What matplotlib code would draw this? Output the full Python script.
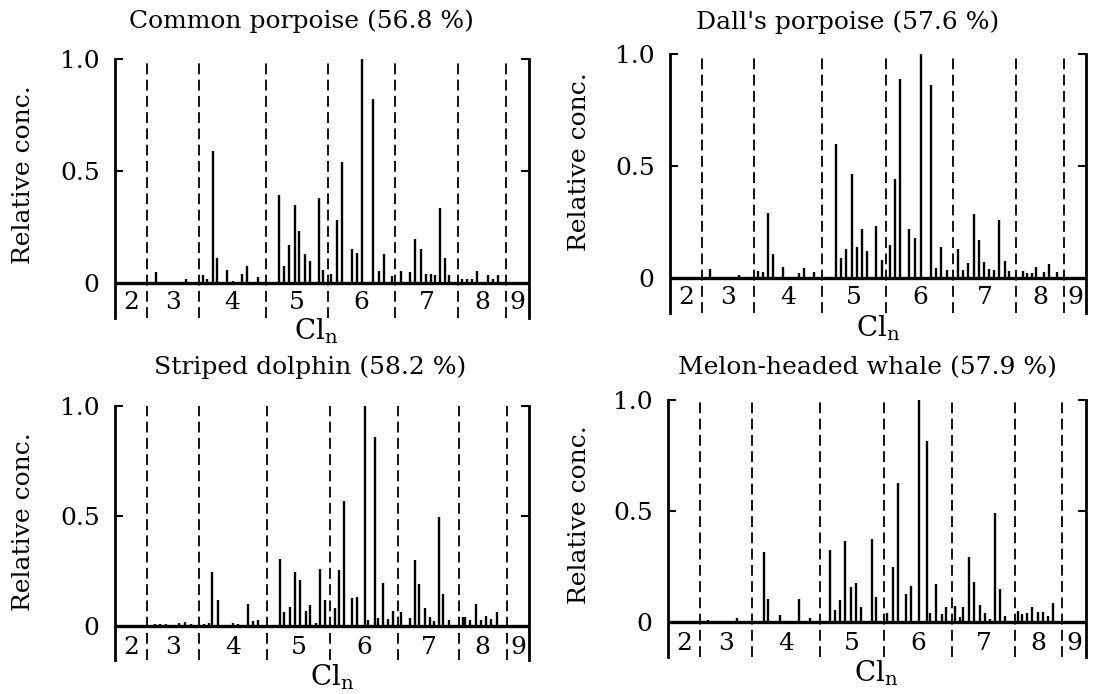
import matplotlib
matplotlib.use("Agg")
import matplotlib.pyplot as plt

plt.rcParams['font.family'] = ['DejaVu Serif']
plt.rcParams['mathtext.fontset'] = 'dejavuserif'

# ---------------- data ----------------
titles = ["Common porpoise (56.8 %)", "Dall's porpoise (57.6 %)",
          "Striped dolphin (58.2 %)", "Melon-headed whale (57.9 %)"]
cl_labels = ["2", "3", "4", "5", "6", "7", "8", "9"]
ytick_vals = [0, 0.5, 1.0]
ytick_text = ["0", "0.5", "1.0"]

# homolog group boundaries (relative retention, 0-100 across the axis)
cp_bounds = [7.65, 20.21, 36.39, 51.45, 67.71, 82.77, 94.44]
dp_bounds = [7.61, 20.11, 36.54, 52.00, 68.11, 83.17, 94.71]
sd_bounds = [7.64, 20.35, 36.69, 52.05, 68.38, 83.03, 94.61]
mh_bounds = [7.57, 20.08, 36.25, 51.63, 68.05, 83.03, 94.34]

# Common porpoise
cp_pos = [9.82, 17.23, 21.18, 22.30, 23.59, 24.72, 27.13, 28.42, 30.68, 31.88,
          34.54, 39.61, 40.82, 42.11, 43.40, 44.52, 45.89, 47.18, 49.36, 50.32,
          52.25, 53.54, 54.91, 57.17, 58.53, 59.74, 62.24, 63.69, 64.98, 66.91,
          69.00, 71.34, 72.54, 73.83, 75.12, 76.41, 77.38, 78.42, 79.79, 80.76,
          83.74, 84.94, 86.15, 87.44, 90.02, 91.22, 92.51]
cp_height = [0.05, 0.02, 0.035, 0.02, 0.59, 0.11, 0.06, 0.01, 0.04, 0.075,
             0.025, 0.395, 0.075, 0.17, 0.35, 0.23, 0.13, 0.10, 0.38, 0.06,
             0.04, 0.28, 0.54, 0.15, 0.135, 1.0, 0.82, 0.055, 0.13, 0.03,
             0.055, 0.05, 0.195, 0.15, 0.04, 0.04, 0.035, 0.335, 0.11, 0.035,
             0.02, 0.02, 0.02, 0.055, 0.035, 0.02, 0.035]

# Dall's porpoise
dp_pos = [9.70, 16.51, 21.07, 22.36, 23.56, 24.76, 27.08, 31.01, 32.21, 34.62,
          39.82, 41.11, 42.39, 43.67, 44.95, 46.15, 47.44, 49.60, 50.96, 52.96,
          54.17, 55.37, 57.53, 58.89, 60.34, 62.66, 63.86, 65.22, 66.59, 69.31,
          70.51, 71.71, 73.00, 74.20, 75.40, 76.68, 77.96, 79.17, 80.45, 81.49,
          84.78, 85.90, 86.94, 88.06, 89.98, 91.19, 93.03]
dp_height = [0.04, 0.013, 0.03, 0.025, 0.29, 0.105, 0.047, 0.022, 0.043, 0.028,
             0.60, 0.09, 0.128, 0.466, 0.14, 0.218, 0.119, 0.231, 0.08, 0.148,
             0.442, 0.89, 0.218, 0.18, 1.0, 0.862, 0.043, 0.138, 0.034, 0.13,
             0.037, 0.065, 0.286, 0.17, 0.07, 0.042, 0.036, 0.257, 0.076, 0.033,
             0.03, 0.024, 0.022, 0.047, 0.025, 0.062, 0.028]

# Striped dolphin
sd_pos = [9.65, 10.86, 12.23, 15.53, 16.98, 18.26, 21.56, 22.69, 23.49, 24.78,
          28.48, 29.61, 32.10, 33.39, 34.59, 39.74, 40.87, 42.16, 43.44, 44.73,
          46.02, 47.22, 48.51, 49.56, 50.76, 53.18, 54.14, 55.35, 57.28, 58.49,
          60.50, 61.22, 62.83, 63.56, 64.84, 66.05, 67.18, 69.11, 71.20, 72.41,
          73.53, 74.82, 76.03, 77.07, 78.20, 79.32, 80.69, 84.07, 84.63, 85.84,
          87.13, 88.33, 89.54, 90.83, 92.36]
sd_height = [0.01, 0.01, 0.008, 0.012, 0.018, 0.008, 0.008, 0.012, 0.244, 0.117,
             0.014, 0.01, 0.098, 0.021, 0.029, 0.305, 0.062, 0.086, 0.247, 0.209,
             0.067, 0.095, 0.012, 0.26, 0.118, 0.083, 0.255, 0.568, 0.126, 0.132,
             1.0, 0.027, 0.86, 0.038, 0.197, 0.03, 0.068, 0.065, 0.038, 0.298,
             0.189, 0.083, 0.041, 0.023, 0.495, 0.144, 0.027, 0.042, 0.042, 0.027,
             0.098, 0.027, 0.047, 0.03, 0.065]

# Melon-headed whale
mh_pos = [9.56, 16.41, 20.88, 21.83, 22.87, 23.98, 26.69, 31.24, 33.86, 38.65,
          40.00, 41.04, 42.39, 43.67, 45.02, 46.06, 48.69, 49.80, 52.43, 53.86,
          55.14, 57.05, 58.25, 60.00, 62.07, 62.79, 64.22, 65.50, 66.61, 68.69,
          69.88, 70.68, 72.11, 73.31, 74.58, 75.78, 76.97, 78.17, 79.44, 80.72,
          83.67, 84.70, 85.82, 87.17, 88.61, 89.80, 90.99, 92.03]
mh_height = [0.01, 0.016, 0.006, 0.006, 0.316, 0.103, 0.031, 0.103, 0.016, 0.324,
             0.052, 0.097, 0.366, 0.157, 0.175, 0.069, 0.372, 0.112, 0.04, 0.246,
             0.627, 0.126, 0.163, 1.0, 0.814, 0.04, 0.171, 0.034, 0.067, 0.073,
             0.022, 0.066, 0.291, 0.181, 0.078, 0.04, 0.015, 0.49, 0.148, 0.027,
             0.048, 0.037, 0.04, 0.067, 0.043, 0.045, 0.028, 0.084]

# ---------------- layout ----------------
W, H = 1118, 694
fig = plt.figure(figsize=(W / 100, H / 100), dpi=100)

# (left px, right px, y=1 px, y=0 px, bottom px)
panel_px = [(115, 529, 59, 283, 318),
            (670, 1086, 54, 278, 313),
            (115, 529, 406, 626, 660),
            (668, 1086, 400, 622, 657)]
title_px = [(301, 21), (848, 22), (310, 367), (867, 368)]
ylabel_px = [(24, 175), (580, 162), (24, 522), (580, 515)]
cln_px = [(316, 340), (878, 336), (332, 686), (876, 682)]
num_off = [19, 19, 21, 21]

panels = [(cp_pos, cp_height, cp_bounds), (dp_pos, dp_height, dp_bounds),
          (sd_pos, sd_height, sd_bounds), (mh_pos, mh_height, mh_bounds)]

FS = 18

for i, (pos, hgt, bounds) in enumerate(panels):
    l, r, y1, y0, yb = panel_px[i]
    scale = y0 - y1
    ybot = -(yb - y0) / scale
    ax = fig.add_axes([l / W, 1 - yb / H, (r - l) / W, (yb - y1) / H])
    ax.set_xlim(0, 100)
    ax.set_ylim(ybot, 1.0)
    ax.patch.set_alpha(0)

    ax.vlines(pos, 0, hgt, color='black', lw=1.7, clip_on=False)
    ax.axhline(0, color='black', lw=2.4)
    ax.vlines(bounds, ybot, 1.0, color='black', lw=1.3,
              linestyles=(0, (6.0, 3.0)))

    edges = [0] + list(bounds) + [100]
    for k, lab in enumerate(cl_labels):
        xc = (edges[k] + edges[k + 1]) / 2
        ax.text(xc, -num_off[i] / scale, lab, ha='center', va='center',
                fontsize=FS)

    for s in ['top', 'bottom']:
        ax.spines[s].set_visible(False)
    for s in ['left', 'right']:
        ax.spines[s].set_linewidth(2.0)
    ax.set_xticks([])
    ax.set_yticks(ytick_vals)
    ax.set_yticklabels(ytick_text, fontsize=FS)
    ax.tick_params(axis='y', which='both', left=True, right=True,
                   direction='in', length=6, width=1.5, pad=11,
                   labelleft=True, labelright=False)
    ax.yaxis.get_major_ticks()[0].tick1line.set_visible(False)
    ax.yaxis.get_major_ticks()[0].tick2line.set_visible(False)

    tx, ty = title_px[i]
    fig.text(tx / W, 1 - ty / H, titles[i], ha='center', va='center', fontsize=FS)
    lx, ly = ylabel_px[i]
    fig.text(lx / W, 1 - ly / H, "Relative conc.", rotation=90,
             ha='center', va='center', fontsize=FS)
    cx, cy = cln_px[i]
    fig.text(cx / W, 1 - cy / H, r"Cl$_{\mathrm{n}}$", ha='center',
             va='baseline', fontsize=20)

fig.savefig("out.png", dpi=100)
